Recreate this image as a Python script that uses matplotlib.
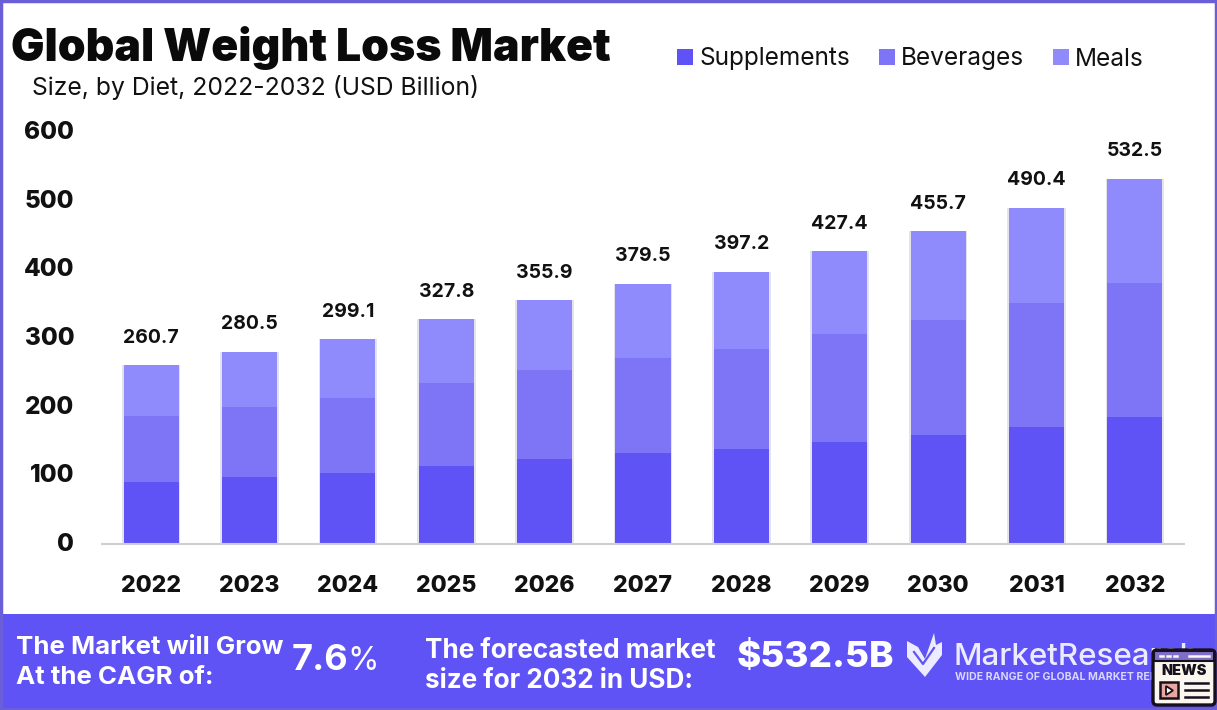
# Global Weight Loss Market - barras apiladas con banner inferior
import matplotlib
matplotlib.use('Agg')
import matplotlib.pyplot as plt
from matplotlib.patches import Rectangle, Polygon, FancyBboxPatch
from matplotlib.transforms import ScaledTranslation

years = ['2022', '2023', '2024', '2025', '2026', '2027', '2028', '2029', '2030', '2031', '2032']
totals = [260.7, 280.5, 299.1, 327.8, 355.9, 379.5, 397.2, 427.4, 455.7, 490.4, 532.5]
supplements = [90, 97.5, 103, 113.5, 124, 132.5, 138, 148.5, 159, 170, 185]
beverages = [96, 102, 109.5, 120.5, 129, 138.5, 146, 157.5, 167, 181, 195]
meals = [74.7, 81, 86.6, 93.8, 102.9, 108.5, 113.2, 121.4, 129.7, 139.4, 152.5]
y_ticks = [0, 100, 200, 300, 400, 500, 600]

W, H = 1217, 710
BLUE = '#5F53F5'
FONT = 'Inter'
plt.rcParams['font.family'] = [FONT, 'DejaVu Sans']

fig = plt.figure(figsize=(W / 100, H / 100), dpi=100, facecolor='white')

# capa de fondo en pixeles, para banner, borde y logo
bg = fig.add_axes([0, 0, 1, 1], zorder=0)
bg.set_xlim(0, W)
bg.set_ylim(H, 0)
bg.axis('off')
bg.add_patch(Rectangle((0, 614), W, 96, color=BLUE, lw=0))
bg.add_patch(Rectangle((1, 1), W - 2, H - 2, fill=False, ec='#6A5FD8', lw=2.5))

# grafico
ax = fig.add_axes([102 / W, 1 - 544 / H, 1082 / W, 413 / H], zorder=1)
ax.patch.set_alpha(0)
x = range(len(years))
bar_w = 0.56
# sombra suave alrededor de las barras
ax.bar(x, totals, bar_w + 0.035, color='#9090A8', alpha=0.25, lw=0)
ax.bar(x, supplements, bar_w, color='#5F53F5', label='Supplements')
bott = [s for s in supplements]
ax.bar(x, beverages, bar_w, bottom=bott, color='#7E74F6', label='Beverages')
bott = [s + b for s, b in zip(supplements, beverages)]
ax.bar(x, meals, bar_w, bottom=bott, color='#8F8BFD', label='Meals')

for i, t in enumerate(totals):
    ax.annotate(f'{t:.1f}', (i, t), xytext=(0, 19.6), textcoords='offset points',
                ha='center', va='center', fontsize=14, fontweight='bold', color='#111111')

ax.set_xlim(-0.5, len(years) - 0.5)
ax.set_ylim(0, 602)
ax.set_xticks(list(x), years)
ax.set_yticks(y_ticks)
ax.tick_params(axis='both', length=0)
ax.tick_params(axis='x', pad=22, labelsize=16.6)
ax.tick_params(axis='y', pad=20, labelsize=17.5)
for lab in ax.get_xticklabels() + ax.get_yticklabels():
    lab.set_fontweight('heavy')
    lab.set_color('#111111')
# subir un poco las etiquetas del eje y
up = ScaledTranslation(0, 1.5 / 72, fig.dpi_scale_trans)
for lab in ax.get_yticklabels():
    lab.set_transform(lab.get_transform() + up)
for s in ['top', 'right', 'left']:
    ax.spines[s].set_visible(False)
ax.spines['bottom'].set_color('#CFCFCF')
ax.spines['bottom'].set_linewidth(1.5)

# leyenda
ax.legend(loc='center left', bbox_to_anchor=(677 / W, 1 - 59 / H), bbox_transform=fig.transFigure,
          ncol=3, frameon=False, fontsize=17.6, handlelength=0.66, handleheight=0.66,
          handletextpad=0.25, columnspacing=1.17, borderpad=0, borderaxespad=0,
          labelcolor='#111111')

# titulos
bg.text(11, 48, 'Global Weight Loss Market', fontsize=32, fontweight='black',
        color='#0A0A0A', va='center', ha='left')
bg.text(32, 88, 'Size, by Diet, 2022-2032 (USD Billion)', fontsize=17.8,
        color='#111111', va='center', ha='left')

# banner
bg.text(16, 647, 'The Market will Grow', fontsize=18.6, fontweight='bold', color='white', va='center')
bg.text(16, 677, 'At the CAGR of:', fontsize=18.6, fontweight='bold', color='white', va='center')
bg.text(292, 661, '7.6', fontsize=26, fontweight='bold', color='white', va='center')
bg.text(347, 661, '%', fontsize=23, color='white', va='center')
bg.text(425, 651, 'The forecasted market', fontsize=18.8, fontweight='bold', color='white', va='center')
bg.text(425, 681, 'size for 2032 in USD:', fontsize=18.8, fontweight='bold', color='white', va='center')
bg.text(737, 658, '$532.5B', fontsize=26.5, fontweight='heavy', color='white', va='center')

# logo
bg.add_patch(Polygon([(907, 641), (918, 647), (925, 659), (934, 633), (936, 645), (942, 642),
                      (942, 655), (925, 677), (907, 657)], closed=True, color='#EDEBFF', lw=0))
bg.plot([914, 923, 934], [652, 664, 648], color=BLUE, lw=1.6)
bg.text(954, 657, 'MarketResearch', fontsize=22.5, fontweight='medium', color='#EDEBFF', va='center')
bg.text(955, 677, 'WIDE RANGE OF GLOBAL MARKET REPORTS', fontsize=7.6, fontweight='bold',
        color='#D9D6FF', va='center')

# icono de noticias
bg.add_patch(FancyBboxPatch((1153, 650), 62, 55, boxstyle='round,pad=0,rounding_size=4',
                            fc='#FBF7EE', ec='#15101C', lw=2.4, zorder=5))
bg.add_patch(Rectangle((1154, 651), 60, 9.5, fc='#7E6FC8', ec='#15101C', lw=1.5, zorder=6))
bg.plot([1160, 1163], [655.5, 655.5], color='#FBF7EE', lw=1.8, zorder=7)
bg.plot([1167, 1170], [655.5, 655.5], color='#FBF7EE', lw=1.8, zorder=7)
bg.plot([1174, 1177], [655.5, 655.5], color='#FBF7EE', lw=1.8, zorder=7)
bg.plot([1189, 1209], [655.5, 655.5], color='#FBF7EE', lw=1.8, zorder=7)
bg.text(1184, 671, 'NEWS', fontsize=10.5, fontweight='black', color='#15101C',
        ha='center', va='center', zorder=7)
bg.add_patch(Rectangle((1160, 682), 18, 16, fc='#E8A6A0', ec='#15101C', lw=1.8, zorder=6))
bg.add_patch(Polygon([(1166, 686), (1166, 695), (1173, 690.5)], closed=True, fc='#FBF7EE',
                     ec='#15101C', lw=1.3, zorder=7))
for yy in [683, 690, 697]:
    bg.plot([1185, 1208], [yy, yy], color='#15101C', lw=1.8, zorder=6)

fig.savefig('out.png', dpi=100)
